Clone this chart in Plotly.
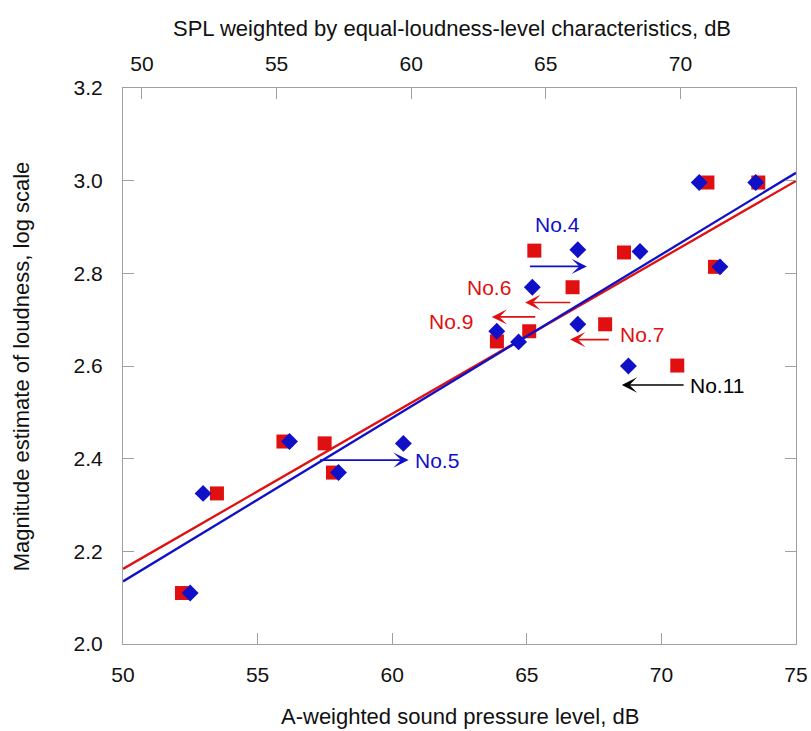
import plotly.graph_objects as go

# ---- data ----
# Red squares: A-weighted sound pressure level (bottom axis)
red_x = [52.19, 53.49, 55.96, 57.49, 57.80, 63.89, 65.09, 65.28, 66.70, 67.91, 68.61, 70.59, 71.99, 71.71, 73.60]
red_y = [2.110, 2.325, 2.437, 2.433, 2.370, 2.653, 2.675, 2.849, 2.770, 2.690, 2.845, 2.601, 2.814, 2.996, 2.996]
# Blue diamonds: SPL weighted by equal-loudness-level characteristics (top axis)
blue_x = [51.79, 52.27, 55.48, 57.30, 59.71, 63.99, 63.18, 66.19, 64.50, 66.19, 68.50, 68.07, 71.47, 70.70, 72.80]
blue_y = [2.110, 2.325, 2.437, 2.370, 2.433, 2.652, 2.675, 2.851, 2.770, 2.690, 2.847, 2.600, 2.814, 2.996, 2.996]

# Regression lines (end points)
red_fit_x = [50.0, 75.0]
red_fit_y = [2.162, 2.9995]
blue_fit_x = [49.295, 74.295]
blue_fit_y = [2.135, 3.017]

# Arrow annotations (bottom-axis units)
arrow_labels = ["No.4", "No.5", "No.6", "No.9", "No.7", "No.11"]
arrow_tail_x = [65.06, 57.26, 66.67, 65.37, 68.10, 70.88]
arrow_head_x = [67.23, 60.61, 64.94, 63.70, 66.61, 68.53]
arrow_y = [2.815, 2.397, 2.737, 2.706, 2.657, 2.559]
arrow_color = ["blue", "blue", "red", "red", "red", "black"]
# label anchor positions
label_x = [66.13, 60.78, 64.49, 63.08, 68.39, 70.99]
label_y = [2.905, 2.397, 2.769, 2.696, 2.667, 2.559]
label_anchor = ["center", "left", "right", "right", "left", "left"]

bottom_ticks = [50, 55, 60, 65, 70, 75]
top_ticks = [50, 55, 60, 65, 70]
y_ticks = [2.0, 2.2, 2.4, 2.6, 2.8, 3.0, 3.2]

RED = "#e01010"
BLUE = "#1010c8"
COLORS = {"red": RED, "blue": BLUE, "black": "#000000"}
FONT = "Liberation Sans, Arial, sans-serif"
AXC = "#a0a0a0"

fig = go.Figure()
fig.add_trace(go.Scatter(x=red_fit_x, y=red_fit_y, mode="lines",
                         line=dict(color=RED, width=2.3), xaxis="x", yaxis="y", showlegend=False))
fig.add_trace(go.Scatter(x=blue_fit_x, y=blue_fit_y, mode="lines",
                         line=dict(color=BLUE, width=2.3), xaxis="x2", yaxis="y", showlegend=False))
fig.add_trace(go.Scatter(x=red_x, y=red_y, mode="markers",
                         marker=dict(symbol="square", size=14, color=RED),
                         xaxis="x", yaxis="y", showlegend=False))
fig.add_trace(go.Scatter(x=blue_x, y=blue_y, mode="markers",
                         marker=dict(symbol="diamond", size=13, color=BLUE),
                         xaxis="x2", yaxis="y", showlegend=False))

annotations = []
for lab, tx, hx, y, c, lx, ly, anc in zip(arrow_labels, arrow_tail_x, arrow_head_x, arrow_y,
                                          arrow_color, label_x, label_y, label_anchor):
    col = COLORS[c]
    annotations.append(dict(x=hx, y=y, ax=tx, ay=y, xref="x", yref="y", axref="x", ayref="y",
                            text="", showarrow=True, arrowhead=3, arrowsize=1.5,
                            arrowwidth=1.7, arrowcolor=col, standoff=0, startstandoff=0))
    annotations.append(dict(x=lx, y=ly, xref="x", yref="y", text=lab, showarrow=False,
                            xanchor=anc, yanchor="middle",
                            font=dict(family=FONT, size=21, color=col)))

# axis titles as annotations
annotations.append(dict(x=0.5, y=-0.1296, xref="paper", yref="paper",
                        text="A-weighted sound pressure level, dB", showarrow=False,
                        xanchor="center", yanchor="middle",
                        font=dict(family=FONT, size=22, color="#111")))
annotations.append(dict(x=(452 - 122.7) / 673.3, y=1.107, xref="paper", yref="paper",
                        text="SPL weighted by equal-loudness-level characteristics, dB",
                        showarrow=False, xanchor="center", yanchor="middle",
                        font=dict(family=FONT, size=22, color="#111")))
annotations.append(dict(x=(21 - 122.7) / 673.3, y=0.5, xref="paper", yref="paper",
                        text="Magnitude estimate of loudness, log scale", showarrow=False,
                        textangle=-90, xanchor="center", yanchor="middle",
                        font=dict(family=FONT, size=22, color="#111")))

axis_common = dict(showgrid=False, zeroline=False, showline=True, linecolor=AXC, linewidth=1.2,
                   ticks="inside", tickcolor=AXC, tickwidth=1.2, ticklen=11, automargin=False,
                   tickfont=dict(family=FONT, size=21, color="#111"))

fig.update_layout(
    width=811, height=731,
    margin=dict(l=123, r=15, t=88, b=87, pad=0),
    plot_bgcolor="white", paper_bgcolor="white",
    xaxis=dict(range=[50, 75], tickvals=bottom_ticks, ticktext=[str(v) for v in bottom_ticks],
               ticklabelstandoff=12, **axis_common),
    xaxis2=dict(range=[49.295, 74.295], overlaying="x", side="top", anchor="y",
                tickvals=top_ticks, ticktext=[str(v) for v in top_ticks],
                ticklabelstandoff=8, **axis_common),
    yaxis=dict(range=[2.0, 3.2], tickvals=y_ticks, ticktext=[f"{v:.1f}" for v in y_ticks],
               mirror="ticks", ticklabelstandoff=15, **axis_common),
    annotations=annotations,
)

fig.write_html("out.html")
